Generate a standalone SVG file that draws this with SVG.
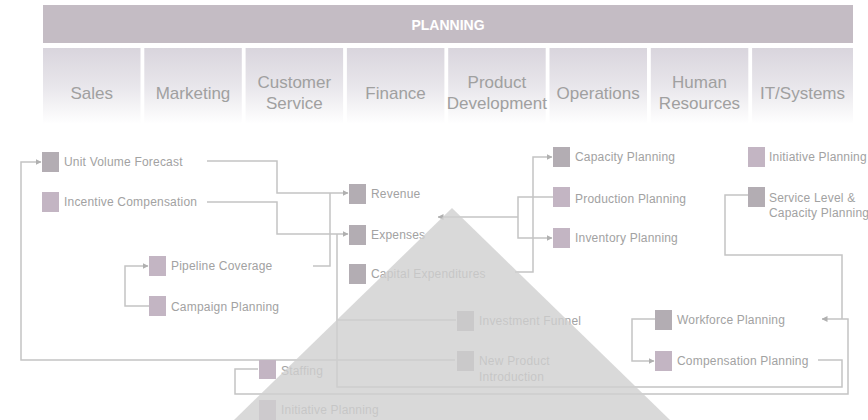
<svg xmlns="http://www.w3.org/2000/svg" width="868" height="420" viewBox="0 0 868 420">
<defs>
<linearGradient id="colg" x1="0" y1="0" x2="0" y2="1">
<stop offset="0" stop-color="#d9d5dd"/>
<stop offset="0.5" stop-color="#e8e6eb"/>
<stop offset="1" stop-color="#ffffff"/>
</linearGradient>
<marker id="arr" viewBox="0 0 6 6" refX="5.5" refY="3" markerWidth="6" markerHeight="6" markerUnits="userSpaceOnUse" orient="auto">
<path d="M0,0 L6,3 L0,6 z" fill="#b0b0b0"/>
</marker>
<style>
.col{fill:url(#colg)}
.hd{font-family:"Liberation Sans",Arial,sans-serif;font-size:17px;fill:#a0a0a0;text-anchor:middle}
.lbl{font-family:"Liberation Sans",Arial,sans-serif;font-size:12px;letter-spacing:0.2px;fill:#a2a2a2}
.sq{fill:#b3adb3}
.sqm{fill:#c3b5c3}
.ln{fill:none;stroke:#c4c4c4;stroke-width:1.5}
</style>
</defs>
<rect width="868" height="420" fill="#ffffff"/>
<g id="header">
<rect x="43" y="5" width="810" height="38" fill="#c4bcc4"/>
<text x="448" y="30" font-family="Liberation Sans,Arial,sans-serif" font-size="14" font-weight="bold" fill="#ffffff" text-anchor="middle">PLANNING</text>
</g>
<g id="columns">
<rect class="col" x="43" y="48" width="97.5" height="76"/>
<rect class="col" x="144.3" y="48" width="97.5" height="76"/>
<rect class="col" x="245.6" y="48" width="97.5" height="76"/>
<rect class="col" x="346.9" y="48" width="97.5" height="76"/>
<rect class="col" x="448.2" y="48" width="97.5" height="76"/>
<rect class="col" x="549.5" y="48" width="97.5" height="76"/>
<rect class="col" x="650.8" y="48" width="97.5" height="76"/>
<rect class="col" x="752.1" y="48" width="100.9" height="76"/>
<text class="hd" x="91.8" y="99">Sales</text>
<text class="hd" x="193" y="99">Marketing</text>
<text class="hd" x="294.3" y="88">Customer</text>
<text class="hd" x="294.3" y="109">Service</text>
<text class="hd" x="395.6" y="99">Finance</text>
<text class="hd" x="496.9" y="88">Product</text>
<text class="hd" x="496.9" y="109">Development</text>
<text class="hd" x="598.2" y="99">Operations</text>
<text class="hd" x="699.5" y="88">Human</text>
<text class="hd" x="699.5" y="109">Resources</text>
<text class="hd" x="802.5" y="99">IT/Systems</text>
</g>
<g id="connectors">
<path class="ln" d="M455,360 H21 V162 H41" marker-end="url(#arr)"/>
<path class="ln" d="M207,161 H277 V193 H348" marker-end="url(#arr)"/>
<path class="ln" d="M313,266 H330 V193"/>
<path class="ln" d="M207,202 H277 V234 H348" marker-end="url(#arr)"/>
<path class="ln" d="M818,360 H842 V387 H337 V234"/>
<path class="ln" d="M337,320 H456"/>
<path class="ln" d="M258,369 H235 V394 H848 V319 H822" marker-end="url(#arr)"/>
<path class="ln" d="M748,195 H725 V255 H842 V319"/>
<path class="ln" d="M655,319 H632 V361 H654" marker-end="url(#arr)"/>
<path class="ln" d="M149,306 H125 V266 H148" marker-end="url(#arr)"/>
<path class="ln" d="M515,272 H533 V157 H552" marker-end="url(#arr)"/>
<path class="ln" d="M518,217 H438" marker-end="url(#arr)"/>
<path class="ln" d="M553,197 H518 V238 H552" marker-end="url(#arr)"/>
</g>
<g id="unit-volume-forecast"><rect class="sq" x="42" y="152" width="17" height="20"/><text class="lbl" x="64" y="166">Unit Volume Forecast</text></g>
<g id="incentive-compensation"><rect class="sqm" x="42" y="192" width="17" height="20"/><text class="lbl" x="64" y="206">Incentive Compensation</text></g>
<g id="pipeline-coverage"><rect class="sqm" x="149" y="256" width="17" height="20"/><text class="lbl" x="171" y="270">Pipeline Coverage</text></g>
<g id="campaign-planning"><rect class="sqm" x="149" y="296" width="17" height="20"/><text class="lbl" x="171" y="311">Campaign Planning</text></g>
<g id="revenue"><rect class="sq" x="349" y="184" width="17" height="20"/><text class="lbl" x="371" y="198">Revenue</text></g>
<g id="expenses"><rect class="sq" x="349" y="225" width="17" height="20"/><text class="lbl" x="371" y="239">Expenses</text></g>
<g id="capital-expenditures"><rect class="sq" x="349" y="264" width="17" height="20"/><text class="lbl" x="371" y="278">Capital Expenditures</text></g>
<g id="capacity-planning"><rect class="sq" x="553" y="147" width="17" height="20"/><text class="lbl" x="575" y="161">Capacity Planning</text></g>
<g id="production-planning"><rect class="sqm" x="553" y="187" width="17" height="20"/><text class="lbl" x="575" y="203">Production Planning</text></g>
<g id="inventory-planning"><rect class="sqm" x="553" y="228" width="17" height="20"/><text class="lbl" x="575" y="242">Inventory Planning</text></g>
<g id="initiative-planning-it"><rect class="sqm" x="748" y="147" width="17" height="20"/><text class="lbl" x="769" y="161">Initiative Planning</text></g>
<g id="service-level-capacity-planning"><rect class="sq" x="748" y="187" width="17" height="20"/><text class="lbl" x="769" y="202">Service Level &amp;</text><text class="lbl" x="769" y="217">Capacity Planning</text></g>
<g id="workforce-planning"><rect class="sq" x="655" y="310" width="17" height="20"/><text class="lbl" x="677" y="324">Workforce Planning</text></g>
<g id="compensation-planning"><rect class="sqm" x="655" y="351" width="17" height="20"/><text class="lbl" x="677" y="365">Compensation Planning</text></g>
<g id="investment-funnel"><rect class="sq" x="457" y="311" width="17" height="20"/><text class="lbl" x="479" y="325">Investment Funnel</text></g>
<g id="new-product-introduction"><rect class="sq" x="457" y="351" width="17" height="20"/><text class="lbl" x="479" y="365">New Product</text><text class="lbl" x="479" y="381">Introduction</text></g>
<g id="staffing"><rect class="sqm" x="259" y="360" width="17" height="19"/><text class="lbl" x="281" y="375">Staffing</text></g>
<g id="initiative-planning-hr"><rect class="sqm" x="259" y="400" width="17" height="20"/><text class="lbl" x="281" y="414">Initiative Planning</text></g>
<polygon id="pyramid" points="452,208 234,420 670,420" fill="#cfcfcf" fill-opacity="0.8"/>
</svg>
